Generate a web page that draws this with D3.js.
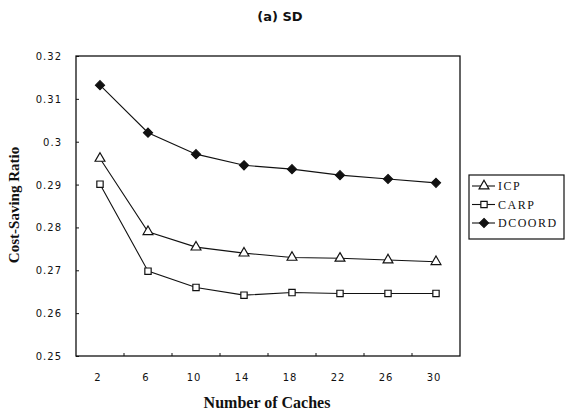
<!DOCTYPE html>
<html>
<head>
<meta charset="utf-8">
<script src="https://cdn.jsdelivr.net/npm/d3@7"></script>
<style>
	body { margin: 0; background: #fff; }
	svg { display: block; }
</style>
</head>
<body>
<div id="chart"></div>
<script>
var cacheCounts = ["2", "6", "10", "14", "18", "22", "26", "30"];
var icp = [0.2961, 0.2790, 0.2754, 0.2740, 0.2730, 0.2728, 0.2724, 0.2720];
var carp = [0.2901, 0.2698, 0.2660, 0.2642, 0.2648, 0.2646, 0.2646, 0.2646];
var dcoord = [0.3132, 0.3021, 0.2971, 0.2945, 0.2936, 0.2922, 0.2913, 0.2904];
var yTicks = [0.25, 0.26, 0.27, 0.28, 0.29, 0.3, 0.31, 0.32];

var seriesList = [
	{name: "ICP", values: icp, marker: "triangle"},
	{name: "CARP", values: carp, marker: "square"},
	{name: "DCOORD", values: dcoord, marker: "diamond"}
];

var width = 577, height = 414;
var margin = {left: 76, top: 56, right: 117, bottom: 58};

var svg = d3.select("#chart").append("svg")
	.attr("width", width)
	.attr("height", height);

var x = d3.scaleBand()
	.domain(cacheCounts)
	.range([margin.left, width - margin.right]);

var y = d3.scaleLinear()
	.domain([0.25, 0.32])
	.range([height - margin.bottom, margin.top]);

var ink = "#111";

// title
svg.append("text")
	.attr("x", 280)
	.attr("y", 21)
	.attr("text-anchor", "middle")
	.style("font-family", "'DejaVu Sans', sans-serif")
	.style("font-weight", "bold")
	.style("font-size", "13px")
	.attr("fill", ink)
	.text("(a) SD");

// frame
svg.append("rect")
	.attr("x", margin.left)
	.attr("y", margin.top)
	.attr("width", width - margin.right - margin.left)
	.attr("height", height - margin.bottom - margin.top)
	.attr("fill", "none")
	.attr("stroke", ink)
	.attr("stroke-width", 1.3);

// y axis ticks (inward)
var yAxis = svg.append("g")
	.attr("transform", "translate(" + margin.left + ",0)")
	.call(d3.axisRight(y).tickValues(yTicks).tickSize(3).tickFormat(""));
yAxis.select(".domain").remove();
yAxis.selectAll("line").attr("stroke", ink);

svg.selectAll(".ylab")
	.data(yTicks)
	.enter()
	.append("text")
	.attr("class", "ylab")
	.attr("x", 62)
	.attr("y", function(d) { return y(d) + 4; })
	.attr("text-anchor", "end")
	.style("font-family", "'DejaVu Sans', sans-serif")
	.style("font-size", "10px")
	.style("letter-spacing", "1px")
	.attr("fill", ink)
	.text(function(d) { return String(+d.toFixed(2)); });

// x axis: small inward ticks between bands
var bounds = cacheCounts.slice(1).map(function(c) { return x(c); });
svg.selectAll(".xtick")
	.data(bounds)
	.enter()
	.append("line")
	.attr("x1", function(d) { return d; })
	.attr("x2", function(d) { return d; })
	.attr("y1", height - margin.bottom)
	.attr("y2", height - margin.bottom - 3)
	.attr("stroke", ink);

svg.selectAll(".xlab")
	.data(cacheCounts)
	.enter()
	.append("text")
	.attr("class", "xlab")
	.attr("x", function(d) { return x(d) + x.bandwidth() / 2 - 2; })
	.attr("y", 381)
	.attr("text-anchor", "middle")
	.style("font-family", "'DejaVu Sans', sans-serif")
	.style("font-size", "10px")
	.style("letter-spacing", "1px")
	.attr("fill", ink)
	.text(function(d) { return d; });

// axis titles
svg.append("text")
	.attr("x", 267)
	.attr("y", 408)
	.attr("text-anchor", "middle")
	.style("font-family", "'Liberation Serif', serif")
	.style("font-weight", "bold")
	.style("font-size", "16px")
	.attr("fill", ink)
	.text("Number of Caches");

svg.append("text")
	.attr("transform", "translate(19,205) rotate(-90)")
	.attr("text-anchor", "middle")
	.style("font-family", "'Liberation Serif', serif")
	.style("font-weight", "bold")
	.style("font-size", "15px")
	.attr("fill", ink)
	.text("Cost-Saving Ratio");

var symbols = {
	triangle: d3.symbol().type(d3.symbolTriangle).size(42)(),
	square: d3.symbol().type(d3.symbolSquare).size(40)(),
	// even-sided diamond, like the original's filled markers
	diamond: "M0,-4.5L4.5,0L0,4.5L-4.5,0Z"
};

function drawMarker(g, type) {
	g.append("path")
		.attr("d", symbols[type])
		.attr("fill", type == "diamond" ? ink : "#fff")
		.attr("stroke", ink)
		.attr("stroke-width", 1.2);
}

var line = d3.line()
	.x(function(d, i) { return x(cacheCounts[i]) + x.bandwidth() / 2; })
	.y(function(d) { return y(d); });

seriesList.forEach(function(s) {
	svg.append("path")
		.attr("d", line(s.values))
		.attr("fill", "none")
		.attr("stroke", ink)
		.attr("stroke-width", 1.1);

	s.values.forEach(function(v, i) {
		var g = svg.append("g")
			.attr("transform", "translate(" + (x(cacheCounts[i]) + x.bandwidth() / 2) + "," + y(v) + ")");
		drawMarker(g, s.marker);
	});
});

// legend
var legend = svg.append("g");
legend.append("rect")
	.attr("x", 469)
	.attr("y", 175)
	.attr("width", 95)
	.attr("height", 64)
	.attr("fill", "#fff")
	.attr("stroke", ink)
	.attr("stroke-width", 1.2);

seriesList.forEach(function(s, i) {
	var ly = 186 + i * 18.5;
	legend.append("line")
		.attr("x1", 472)
		.attr("x2", 495)
		.attr("y1", ly)
		.attr("y2", ly)
		.attr("stroke", ink)
		.attr("stroke-width", 1.1);
	var g = legend.append("g").attr("transform", "translate(484," + ly + ")");
	drawMarker(g, s.marker);
	legend.append("text")
		.attr("x", 498)
		.attr("y", ly + 4)
		.style("font-family", "'Liberation Serif', serif")
		.style("font-size", "12px")
		.style("letter-spacing", "1.5px")
		.attr("fill", ink)
		.text(s.name);
});
</script>
</body>
</html>
